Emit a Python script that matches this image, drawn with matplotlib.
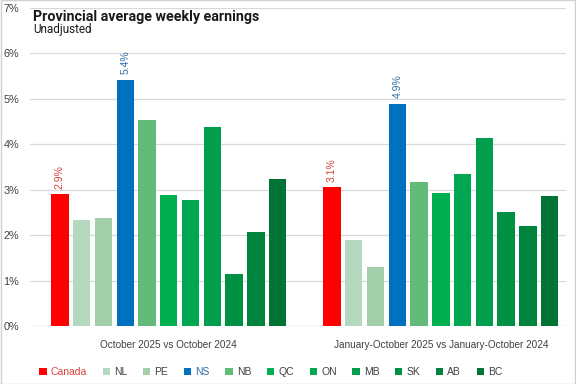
import matplotlib.pyplot as plt
import numpy as np

regions = ["Canada", "NL", "PE", "NS", "NB", "QC", "ON", "MB", "SK", "AB", "BC"]
periods = ["October 2025 vs October 2024", "January-October 2025 vs January-October 2024"]
oct_change = [2.9, 2.33, 2.38, 5.42, 4.54, 2.88, 2.77, 4.38, 1.15, 2.07, 3.24]
ytd_change = [3.06, 1.89, 1.30, 4.89, 3.17, 2.93, 3.35, 4.14, 2.51, 2.20, 2.86]
colors = ["#ff0000", "#b5d9be", "#a2cfaa", "#0070c0", "#62bb78", "#00b050",
          "#00a651", "#009e4d", "#009044", "#00843d", "#007435"]
labelled = {"Canada": "#d9423e", "NS": "#2f6fa8"}

plt.rcParams['font.family'] = ['Liberation Sans', 'DejaVu Sans']
fig = plt.figure(figsize=(5.76, 3.84), dpi=100)
fig.patches.append(plt.Rectangle((0.001, 0.001), 0.998, 0.998, transform=fig.transFigure,
                                 fill=False, ec="#d0d0d0", lw=1))
ax = fig.add_axes([30 / 576, 1 - 326 / 384, 536 / 576, 318 / 384])

step = 0.08
width = 0.064
offsets = (np.arange(len(regions)) - 5) * step
for g, vals in enumerate([oct_change, ytd_change]):
    for i, r in enumerate(regions):
        x = g + offsets[i]
        ax.bar(x, vals[i], width=width, color=colors[i], label=r if g == 0 else None, zorder=3)
        if r in labelled:
            ax.text(x, vals[i] + 0.12, f"{vals[i]:.1f}%", rotation=90, ha="center", va="bottom",
                    color=labelled[r], fontsize=7.5)

ax.set_xlim(-0.51, 1.46)
ax.set_ylim(0, 7)
ax.set_yticks(range(0, 8))
ax.set_yticklabels([f"{v}%" for v in range(0, 8)], fontsize=7.8, color="#404040")
ax.set_xticks([0, 1])
ax.set_xticklabels(periods, fontsize=7.2, color="#404040")
ax.tick_params(axis="x", length=0, pad=10)
ax.tick_params(axis="y", length=0, pad=8)
ax.grid(axis="y", color="#d9d9d9", lw=0.9, zorder=0)
for s in ax.spines.values():
    s.set_visible(False)
ax.axhline(0, color="#d9d9d9", lw=0.9, zorder=1)

fig.text(33 / 576, 1 - 17 / 384, "Provincial average weekly earnings", fontsize=10.3,
         fontweight="bold", va="center", color="#1a1a1a", family=["Roboto", "DejaVu Sans"])
fig.text(33 / 576, 1 - 30 / 384, "Unadjusted", fontsize=8.5, va="center", color="#1a1a1a",
         family=["Roboto", "DejaVu Sans"])

leg = fig.legend(loc="center", bbox_to_anchor=(271 / 576, 1 - 372 / 384), ncol=11, frameon=False,
                 fontsize=7.5, handlelength=0.7, handleheight=0.7, handletextpad=0.4,
                 columnspacing=1.5)
for t in leg.get_texts():
    t.set_color(labelled.get(t.get_text(), "#404040"))

fig.savefig("out.png", dpi=100)
